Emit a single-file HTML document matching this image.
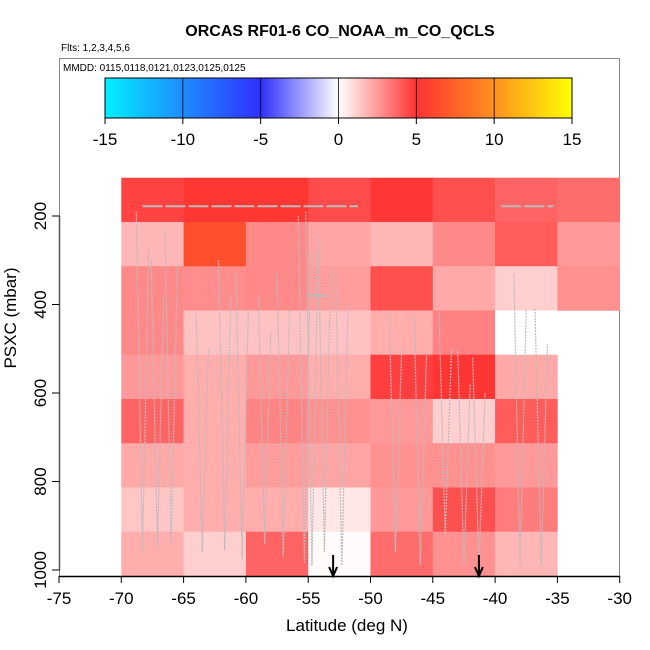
<!DOCTYPE html>
<html><head><meta charset="utf-8"><style>
html,body{margin:0;padding:0;background:#fff}
svg{display:block;font-family:"Liberation Sans",sans-serif}
</style></head><body>
<svg id="chart" width="650" height="650" viewBox="0 0 650 650">
<defs>
<linearGradient id="cb" x1="0" x2="1" y1="0" y2="0">
<stop offset="0" stop-color="#00f0ff"/><stop offset="0.1667" stop-color="#1e8cff"/>
<stop offset="0.3333" stop-color="#3030ff"/><stop offset="0.5" stop-color="#ffffff"/>
<stop offset="0.6667" stop-color="#ff3333"/><stop offset="0.8333" stop-color="#ff9020"/>
<stop offset="1" stop-color="#ffff00"/>
</linearGradient>
</defs>
<text x="340" y="36" text-anchor="middle" font-size="16" font-weight="bold">ORCAS RF01-6 CO_NOAA_m_CO_QCLS</text>
<text x="61" y="51" font-size="10">Flts: 1,2,3,4,5,6</text>
<rect x="59.5" y="58.5" width="560" height="518" fill="none" stroke="#888"/>
<text x="63" y="71" font-size="10">MMDD: 0115,0118,0121,0123,0125,0125</text>
<g id="cells"></g>
<g id="tracks"></g>
<g id="colorbar"></g>
<g id="axes"></g>
<text x="347" y="631" text-anchor="middle" font-size="17">Latitude (deg N)</text>
<text x="0" y="0" transform="translate(16,318) rotate(-90)" text-anchor="middle" font-size="17">PSXC (mbar)</text>
</svg>
<script>
const latEdges = [-70,-65,-60,-55,-50,-45,-40,-35,-30];
const presTop = [113.5,213.5,313.5,413.5,513.5,613.5,713.5,813.5,913.5];
const row1 = [4.6,5.2,5.2,4.4,4.9,4.3,3.8,3.6];
const row2 = [1.8,6.5,2.9,2.2,1.8,2.9,4.0,2.5];
const row3 = [2.9,2.8,2.9,2.4,4.3,2.1,1.2,2.7];
const row4 = [2.9,1.5,1.5,1.5,2.0,3.1,0.0,null];
const row5 = [2.5,2.0,2.5,2.0,4.7,5.1,2.1,null];
const row6 = [3.8,2.0,3.0,2.7,2.5,1.2,4.0,null];
const row7 = [2.1,2.0,2.4,2.2,2.7,2.7,2.5,null];
const row8 = [1.4,2.0,2.0,0.6,2.5,4.3,3.2,null];
const row9 = [2.0,1.2,3.8,0.1,3.6,2.7,1.8,null];
const rows = [row1,row2,row3,row4,row5,row6,row7,row8,row9];
const xTicks = [-75,-70,-65,-60,-55,-50,-45,-40,-35,-30];
const yTicks = [200,400,600,800,1000];
const cbTicks = [-15,-10,-5,0,5,10,15];
const arrowLats = [-53,-41.3];
const trackLat=[-68.8,-67.6,-66.5,-64,-62.2,-60.8,-59,-57.5,-55.8,-55.2,-54.2,-52.8,-48.5,-46.5,-44.5,-43,-41.8,-38.5,-36.8];
const trackTop=[190,300,230,420,300,330,380,330,200,190,240,320,420,430,420,500,520,330,410];
const trackBot=[960,950,940,960,955,975,940,970,985,990,960,990,960,990,920,990,985,990,990];

const NS='http://www.w3.org/2000/svg';
const X = v => 59 + (v+75)*12.46;
const Y = p => 216 + (p-200)*0.4425;
const CX = v => 105 + (v+15)*(467/30);
function mk(tag, attrs, parent){const e=document.createElementNS(NS,tag);for(const k in attrs)e.setAttribute(k,attrs[k]);parent.appendChild(e);return e;}
function lerp(a,b,t){return a.map((x,i)=>Math.round(x+(b[i]-x)*t));}
const stops=[[-15,[0,240,255]],[-10,[30,140,255]],[-5,[48,48,255]],[0,[255,255,255]],[5,[255,51,51]],[10,[255,144,32]],[15,[255,255,0]]];
function color(v){v=Math.max(-15,Math.min(15,v));for(let i=0;i<stops.length-1;i++){if(v<=stops[i+1][0]){const t=(v-stops[i][0])/(stops[i+1][0]-stops[i][0]);const c=lerp(stops[i][1],stops[i+1][1],t);return `rgb(${c})`;}}return 'rgb(255,255,0)';}

const cells=document.getElementById('cells');
rows.forEach((r,ri)=>{r.forEach((v,ci)=>{if(v===null)return;
 const x0=X(latEdges[ci]),x1=X(latEdges[ci+1]),y0=Y(presTop[ri]),y1=Y(presTop[ri]+100);
 const e=mk('rect',{x:x0,y:y0,width:x1-x0+0.3,height:y1-y0+0.3,fill:color(v)},cells);
 
 
});});

const tr=document.getElementById('tracks');
const gtrack=mk('path',{d:'',fill:'none',stroke:'#bbbbbb','stroke-width':1.2},tr);
let d='';
trackLat.forEach((la,i)=>{d+=`M${X(la)},${Y(trackTop[i])}L${X(la+0.5)},${Y(trackBot[i])}L${X(la+1)},${Y(trackTop[i]+80)}`;});
gtrack.setAttribute('d',d);
gtrack.setAttribute('stroke-dasharray','2,1');


const top200=mk('path',{d:`M${X(-68.3)},${Y(178)}H${X(-51)}M${X(-39.5)},${Y(178)}H${X(-35.3)}M${X(-55)},${Y(380)}H${X(-53.5)}`,fill:'none',stroke:'#bbbbbb','stroke-width':2,'stroke-dasharray':'20,3'},tr);



arrowLats.forEach(la=>{const g=mk('g',{},document.getElementById('axes'));
 
 
 mk('line',{x1:X(la),y1:555,x2:X(la),y2:575,stroke:'#000','stroke-width':2},g);
 mk('path',{d:`M${X(la)-4},${567}L${X(la)},${576}L${X(la)+4},${567}`,fill:'none',stroke:'#000','stroke-width':2},g);
});

const cb=document.getElementById('colorbar');
mk('rect',{x:CX(-15),y:78,width:CX(15)-CX(-15),height:40,fill:'url(#cb)',stroke:'#000','stroke-width':1},cb);
cbTicks.forEach(t=>{
 if(t>-15&&t<15) mk('line',{x1:CX(t),y1:78,x2:CX(t),y2:118,stroke:'#000','stroke-width':0.8},cb);
 mk('line',{x1:CX(t),y1:118,x2:CX(t),y2:124,stroke:'#000'},cb);
 const tx=mk('text',{x:CX(t),y:145,'text-anchor':'middle','font-size':17},cb);tx.textContent=t;
 
 
});

const ax=document.getElementById('axes');
mk('line',{x1:X(-75),y1:576.5,x2:X(-30),y2:576.5,stroke:'#000','stroke-width':1.5},ax);
mk('line',{x1:59.5,y1:Y(200),x2:59.5,y2:Y(1000),stroke:'#555','stroke-width':1.5},ax);
xTicks.forEach(t=>{mk('line',{x1:X(t),y1:576,x2:X(t),y2:583,stroke:'#000'},ax);
 const tx=mk('text',{x:X(t),y:604,'text-anchor':'middle','font-size':17},ax);tx.textContent=t;
 
 
});
yTicks.forEach(t=>{mk('line',{x1:52,y1:Y(t),x2:59.5,y2:Y(t),stroke:'#000'},ax);
 const tx=mk('text',{x:0,y:0,transform:`translate(46,${Y(t)}) rotate(-90)`,'text-anchor':'middle','font-size':17},ax);tx.textContent=t;
 
 
});
</script>
</body></html>
